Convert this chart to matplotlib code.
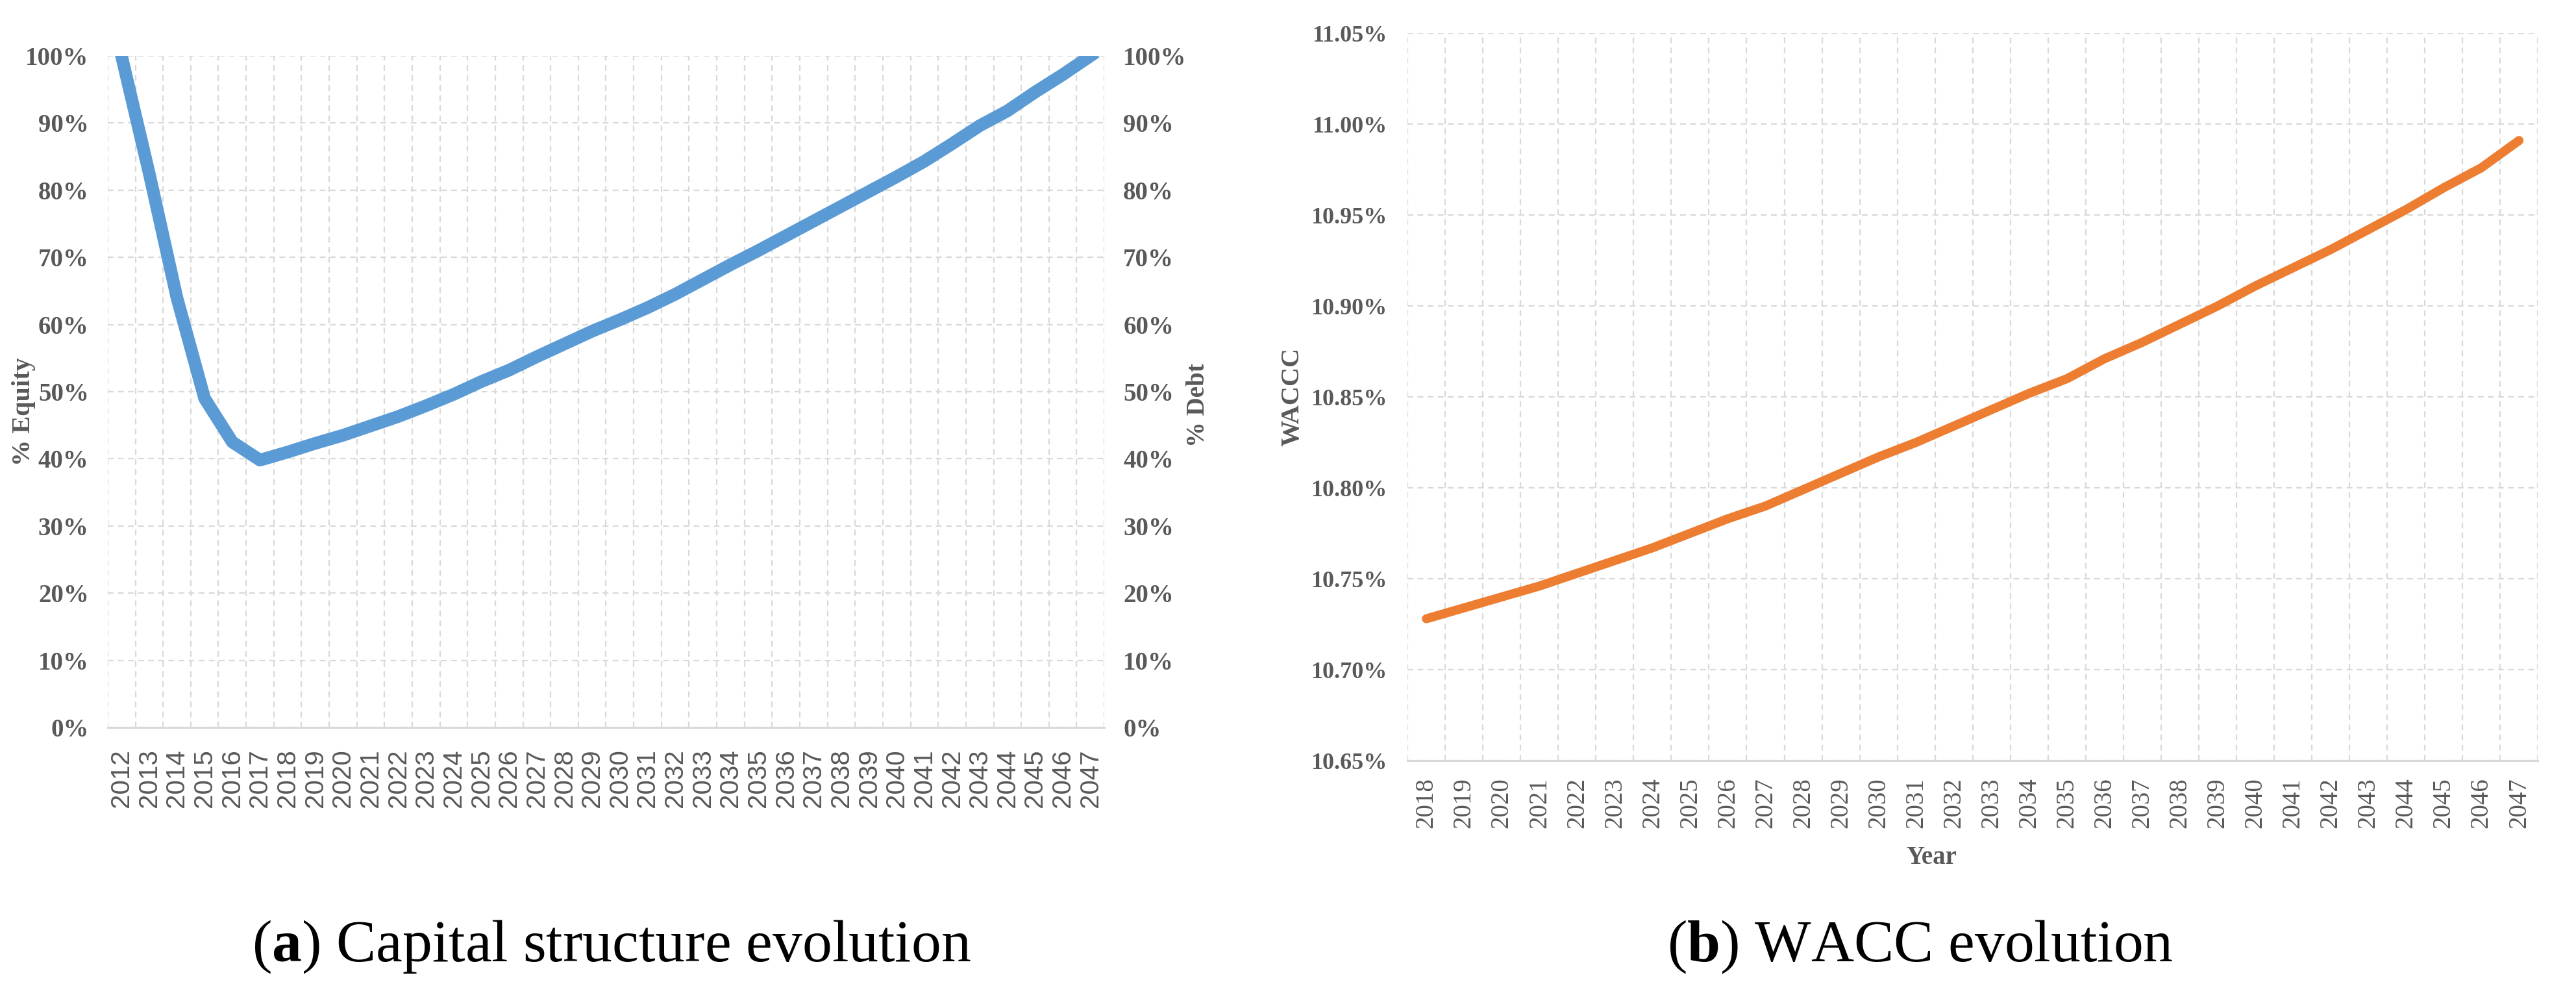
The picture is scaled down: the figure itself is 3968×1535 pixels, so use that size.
import numpy as np
import matplotlib
matplotlib.use("Agg")
from matplotlib import pyplot as plt
from matplotlib.ticker import FixedLocator, FuncFormatter

plt.rcParams['mathtext.fontset'] = 'custom'
plt.rcParams['mathtext.rm'] = 'Liberation Serif'
plt.rcParams['mathtext.bf'] = 'Liberation Serif:bold'

# data
years_a = [str(y) for y in range(2012, 2048)]
equity = [100, 82.5, 64, 49, 42.5, 39.8, 41, 42.3, 43.5, 44.9, 46.3, 47.9,
          49.6, 51.5, 53.2, 55.2, 57.1, 59.0, 60.7, 62.5, 64.5, 66.7, 68.9, 71.0,
          73.2, 75.4, 77.6, 79.8, 82.0, 84.3, 86.9, 89.6, 91.8, 94.6, 97.2, 100]

years_b = [str(y) for y in range(2018, 2048)]
wacc = [10.728, 10.734, 10.740, 10.746, 10.753, 10.760, 10.767, 10.775, 10.783,
        10.790, 10.799, 10.808, 10.817, 10.825, 10.834, 10.843, 10.852, 10.860,
        10.871, 10.880, 10.890, 10.900, 10.911, 10.921, 10.931, 10.942, 10.953,
        10.965, 10.976, 10.991]

eq_ticks = [0, 10, 20, 30, 40, 50, 60, 70, 80, 90, 100]
wacc_ticks = [10.65, 10.70, 10.75, 10.80, 10.85, 10.90, 10.95, 11.00, 11.05]

GRID = '#D9D9D9'
TXT = '#595959'
BLUE = '#5B9BD5'
ORANGE = '#ED7D31'
DASH = (0, (4, 3))


def style_axes(ax, n):
    ax.set_xlim(-0.5, n - 0.5)
    ax.xaxis.set_minor_locator(FixedLocator(np.arange(-0.5, n, 1)))
    ax.grid(True, which='minor', axis='x', color=GRID, linestyle=DASH, linewidth=1.6)
    ax.grid(True, which='major', axis='y', color=GRID, linestyle=DASH, linewidth=1.6)
    ax.tick_params(which='both', length=0)
    for s in ['top', 'right', 'left']:
        ax.spines[s].set_visible(False)
    ax.spines['bottom'].set_color(GRID)
    ax.spines['bottom'].set_linewidth(2.2)
    ax.set_axisbelow(True)


fig = plt.figure(figsize=(39.68, 15.35), dpi=100)

# (a) capital structure
ax1 = fig.add_axes([0.0418, 0.2704, 0.3869, 0.6736])
xa = np.arange(len(years_a))
ax1.plot(xa, equity, color=BLUE, linewidth=14, solid_joinstyle='round', zorder=3)
style_axes(ax1, len(years_a))
ax1.set_ylim(0, 100)
ax1.set_yticks(eq_ticks)
ax1.yaxis.set_major_formatter(FuncFormatter(lambda v, p: '%d%%' % v))
ax1.set_xticks(xa)
ax1.set_xticklabels(years_a, rotation=90, fontsize=29, color=TXT, family='Liberation Sans')
ax1.tick_params(axis='x', pad=24)
ax1.tick_params(axis='y', pad=21, labelsize=28, labelcolor=TXT)
for t in ax1.get_yticklabels():
    t.set_family('Liberation Serif')
    t.set_fontweight('bold')
ax1.set_ylabel('% Equity', fontsize=29, fontweight='bold', color=TXT, family='Liberation Serif')
ax1.yaxis.set_label_coords(-0.072, 0.47)

ax1r = ax1.twinx()
ax1r.set_ylim(0, 100)
ax1r.set_yticks(eq_ticks)
ax1r.yaxis.set_major_formatter(FuncFormatter(lambda v, p: '%d%%' % v))
ax1r.tick_params(axis='y', length=0, pad=21, labelsize=28, labelcolor=TXT)
for t in ax1r.get_yticklabels():
    t.set_family('Liberation Serif')
    t.set_fontweight('bold')
for s in ax1r.spines.values():
    s.set_visible(False)
ax1r.set_ylabel('% Debt', fontsize=28, fontweight='bold', color=TXT, family='Liberation Serif')
ax1r.yaxis.set_label_coords(1.082, 0.48)

# (b) WACC
ax2 = fig.add_axes([0.5464, 0.2371, 0.4388, 0.7296])
xb = np.arange(len(years_b))
ax2.plot(xb, wacc, color=ORANGE, linewidth=10, solid_capstyle='round', zorder=3)
style_axes(ax2, len(years_b))
ax2.set_ylim(10.65, 11.05)
ax2.set_yticks(wacc_ticks)
ax2.yaxis.set_major_formatter(FuncFormatter(lambda v, p: '%.2f%%' % v))
ax2.set_xticks(xb)
ax2.set_xticklabels(years_b, rotation=90, fontsize=28, color=TXT, family='Liberation Serif')
ax2.tick_params(axis='x', pad=19)
ax2.tick_params(axis='y', pad=23, labelsize=26, labelcolor=TXT)
for t in ax2.get_yticklabels():
    t.set_family('Liberation Serif')
    t.set_fontweight('bold')
ax2.set_ylabel('WACCC', fontsize=29, fontweight='bold', color=TXT, family='Liberation Serif')
ax2.yaxis.set_label_coords(-0.091, 0.5)
ax2.set_xlabel('Year', fontsize=28, fontweight='bold', color=TXT, family='Liberation Serif')
ax2.xaxis.set_label_coords(0.4635, -0.117)

# captions
fig.text(942 / 3968, 1 - 1458 / 1535, r'($\mathbf{a}$) Capital structure evolution',
         fontsize=66, family='Liberation Serif', ha='center', va='center')
fig.text(2958 / 3968, 1 - 1458 / 1535, r'($\mathbf{b}$) WACC evolution',
         fontsize=66, family='Liberation Serif', ha='center', va='center')

fig.savefig('out.png', dpi=100)
